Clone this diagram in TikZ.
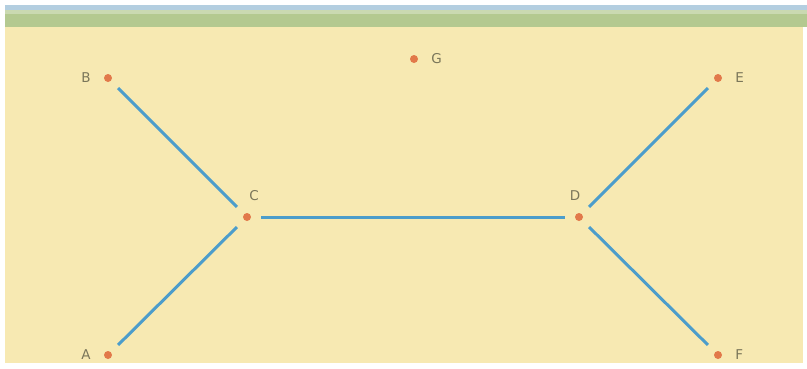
\documentclass[tikz,border=0pt]{standalone}
\usepackage{fontspec}
\setmainfont{DejaVu Sans}
\usepackage{xcolor}
\usetikzlibrary{positioning}

\definecolor{paper}{HTML}{F7E9B2}
\definecolor{topband}{HTML}{B4C990}
\definecolor{skyband}{HTML}{B3CEE0}
\definecolor{dotcol}{HTML}{E2794A}
\definecolor{edgecol}{HTML}{4C9DCB}
\definecolor{labcol}{HTML}{7A765A}

\begin{document}
\begin{tikzpicture}[
x=1pt, y=-1pt,
node distance=13pt,
vert/.style={circle, fill=dotcol, inner sep=0pt, minimum size=8pt},
lab/.style={text=labcol, inner sep=0pt, font=\fontsize{13.5}{15}\selectfont},
edge/.style={draw=edgecol, line width=3pt, shorten >=10pt, shorten <=10pt}
]
% page and bands
\fill[white] (0,0) rectangle (807,368);
\useasboundingbox (0,0) rectangle (807,368);
\fill[skyband] (5,5) rectangle (807,10);
\fill[topband!70!white] (5,10) rectangle (807,14);
\fill[topband] (5,14) rectangle (807,27);
\fill[paper] (5,27) rectangle (803,363);

% vertices
\node[vert] (b) at (108,78) {};
\node[vert] (g) at (414,59) {};
\node[vert] (e) at (718,78) {};
\node[vert] (c) at (247,217) {};
\node[vert] (d) at (579,217) {};
\node[vert] (a) at (108,355) {};
\node[vert] (f) at (718,355) {};

% letters
\node[lab, left=of b] (blab) {B};
\node[lab, right=of g] (glab) {G};
\node[lab, right=of e] (elab) {E};
\node[lab, above=12pt of c, xshift=7pt] (clab) {C};
\node[lab, above=12pt of d, xshift=-4pt] (dlab) {D};
\node[lab, left=of a] (alab) {A};
\node[lab, right=of f] (flab) {F};

% edges
\draw[edge] (b) -- (c);
\draw[edge] (a) -- (c);
\draw[edge] (c) -- (d);
\draw[edge] (d) -- (e);
\draw[edge] (d) -- (f);
\end{tikzpicture}
\end{document}
